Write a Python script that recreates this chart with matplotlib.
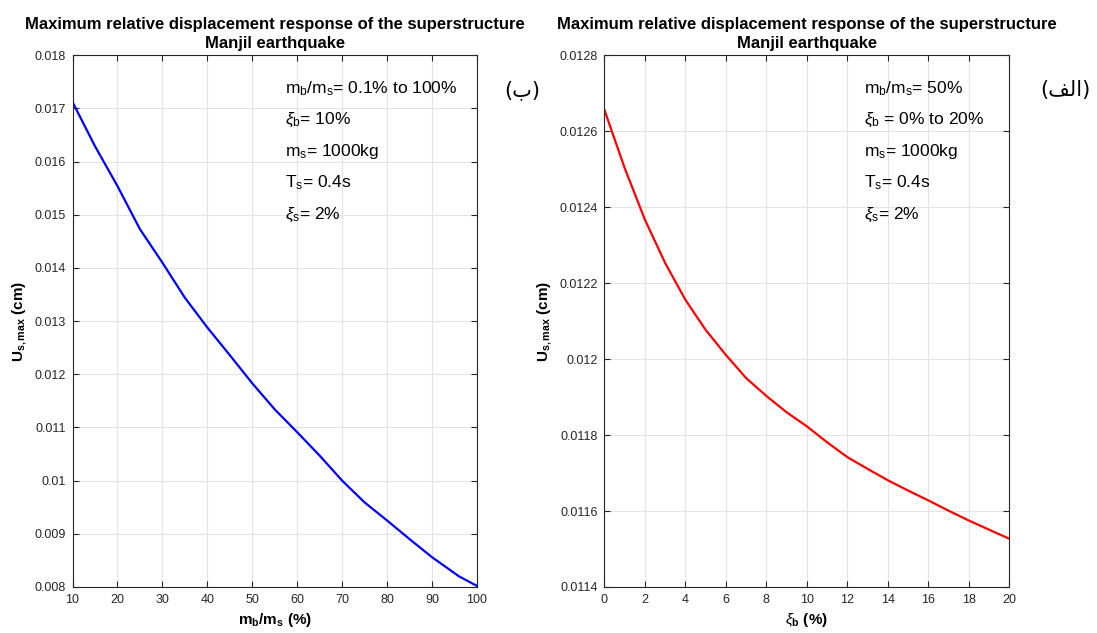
import matplotlib
matplotlib.use("Agg")
import matplotlib.pyplot as plt
from matplotlib.ticker import FuncFormatter

plt.rcParams['font.family'] = ['Liberation Sans', 'DejaVu Sans']
plt.rcParams['mathtext.fontset'] = 'custom'
plt.rcParams['mathtext.rm'] = 'Liberation Sans'
plt.rcParams['mathtext.it'] = 'Liberation Sans:italic'
plt.rcParams['mathtext.bf'] = 'Liberation Sans:bold'

# left panel: mass ratio sweep
mass_ratio = [10, 15, 20, 25, 30, 35, 40, 45, 50, 55, 60, 65, 70, 75, 80, 85, 90, 96, 100]
u_mass = [0.01712, 0.01629, 0.01554, 0.01473, 0.01410, 0.01344, 0.01288, 0.01236,
          0.01183, 0.01134, 0.01091, 0.01047, 0.01000, 0.00959, 0.00925, 0.00890,
          0.00856, 0.00820, 0.00802]

# right panel: base damping sweep
damping = [0, 1, 2, 3, 4, 5, 6, 7, 8, 9, 10, 11, 12, 13, 14, 15, 16, 17, 18, 19, 20]
u_damp = [0.012656, 0.012503, 0.012367, 0.012253, 0.012156, 0.012077, 0.012011,
          0.011950, 0.011903, 0.011860, 0.011823, 0.011781, 0.011742, 0.011711,
          0.011681, 0.011654, 0.011628, 0.011601, 0.011575, 0.011551, 0.011527]

title = 'Maximum relative displacement response of the superstructure\nManjil earthquake'
left_notes = [r'm$_\mathregular{b}$/m$_\mathregular{s}$= 0.1% to 100%',
              r'$\xi_\mathregular{b}$= 10%',
              r'm$_\mathregular{s}$= 1000kg',
              r'T$_\mathregular{s}$= 0.4s',
              r'$\xi_\mathregular{s}$= 2%']
right_notes = [r'm$_\mathregular{b}$/m$_\mathregular{s}$= 50%',
               r'$\xi_\mathregular{b}$ = 0% to 20%',
               r'm$_\mathregular{s}$= 1000kg',
               r'T$_\mathregular{s}$= 0.4s',
               r'$\xi_\mathregular{s}$= 2%']

fig = plt.figure(figsize=(10.97, 6.33), dpi=100)
ax1 = fig.add_axes([0.0661, 0.0727, 0.3687, 0.84])
ax2 = fig.add_axes([0.5510, 0.0727, 0.3690, 0.84])

def gfmt(v, pos):
    return '%g' % round(v, 6)

def style(ax):
    ax.grid(True, color='#e3e3e3', linewidth=0.8)
    ax.set_axisbelow(True)
    ax.tick_params(direction='in', top=True, right=True, labelsize=9,
                   colors='#262626', length=4, pad=5)
    for s in ax.spines.values():
        s.set_color('#262626')
        s.set_linewidth(0.8)
    ax.yaxis.set_major_formatter(FuncFormatter(gfmt))
    ax.set_title(title, fontsize=12, fontweight='bold', pad=5, linespacing=1.35)
    ax.set_ylabel(r'U$_\mathbf{s,max}$ (cm)', fontsize=11, fontweight='bold')

ax1.plot(mass_ratio, u_mass, color='blue', linewidth=1.6)
ax1.set_xlim(10, 100)
ax1.set_ylim(0.008, 0.018)
ax1.set_xticks(range(10, 101, 10))
ax1.set_yticks([0.008 + 0.001 * i for i in range(11)])
style(ax1)
ax1.set_xlabel(r'm$_\mathbf{b}$/m$_\mathbf{s}$ (%)', fontsize=11, fontweight='bold')

ax2.plot(damping, u_damp, color='red', linewidth=1.6)
ax2.set_xlim(0, 20)
ax2.set_ylim(0.0114, 0.0128)
ax2.set_xticks(range(0, 21, 2))
ax2.set_yticks([0.0114 + 0.0002 * i for i in range(8)])
style(ax2)
ax2.set_xlabel(r'$\xi_\mathbf{b}$ (%)', fontsize=11, fontweight='bold')

for ax, notes, xpos in [(ax1, left_notes, 0.525), (ax2, right_notes, 0.641)]:
    for i, t in enumerate(notes):
        ax.text(xpos, 0.938 - 0.0595 * i, t, transform=ax.transAxes,
                fontsize=12.5, va='center', ha='left')

fig.text(522 / 1097, 1 - 90 / 633, '(\u0628)', fontsize=15, ha='center', va='center',
         family=['DejaVu Sans'])
fig.text(1065 / 1097, 1 - 90 / 633, '(\ufed2\ufedf\u0627)', fontsize=15, ha='center',
         va='center', family=['DejaVu Sans'])

fig.savefig('out.png', dpi=100)
